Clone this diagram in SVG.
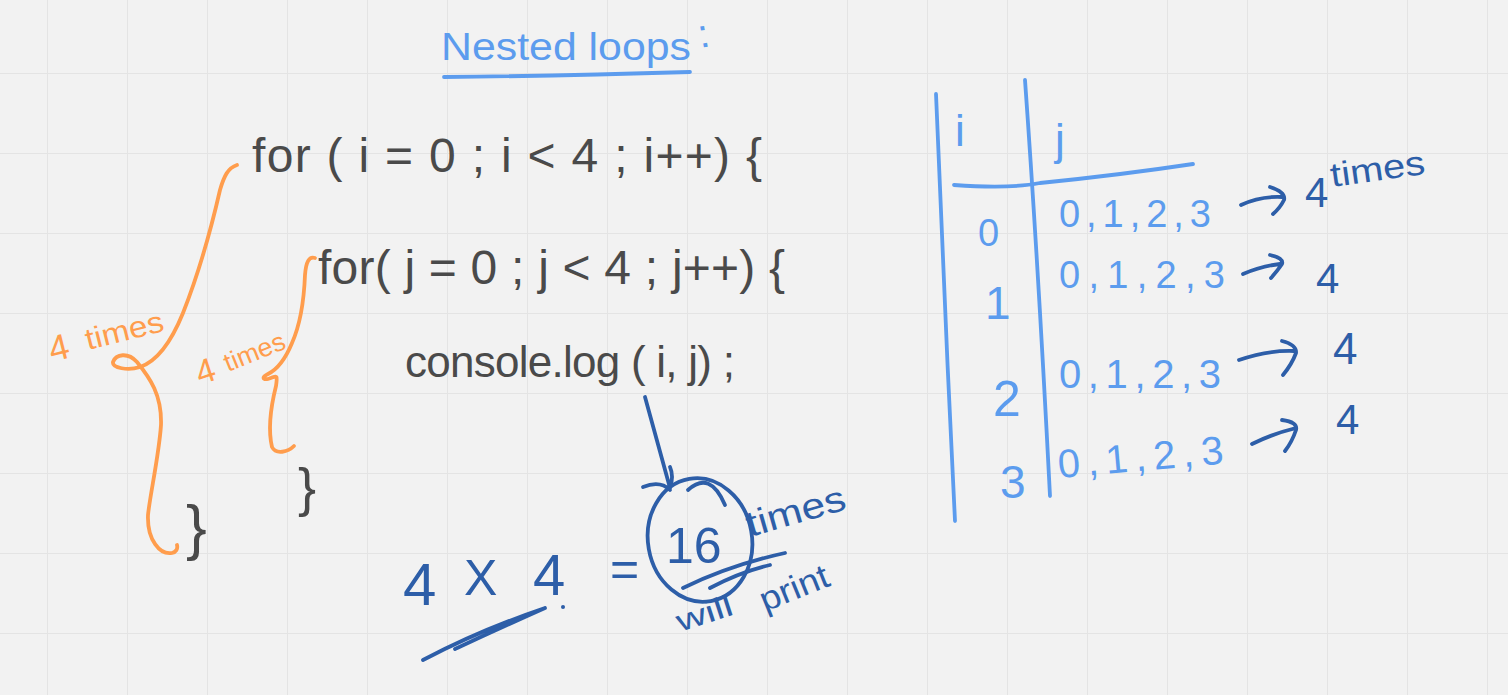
<svg xmlns="http://www.w3.org/2000/svg" width="1508" height="695" viewBox="0 0 1508 695">
<defs>
<pattern id="grid" x="47" y="73" width="80" height="80" patternUnits="userSpaceOnUse">
<path d="M0 0V80M0 0H80" fill="none" stroke="#e4e4e4" stroke-width="2"/>
</pattern>
</defs>
<style>
text{font-family:"Liberation Sans","DejaVu Sans",sans-serif;}
.dk{fill:#4a4a4a;}
.lb{fill:#5c9cee;}
.db{fill:#2d5ea8;}
.or{fill:#ff9d4d;}
.s{fill:none;stroke-linecap:round;stroke-linejoin:round;stroke-width:3.8;}
.sdk{stroke:#4a4a4a;}
.slb{stroke:#5c9cee;}
.sdb{stroke:#2d5ea8;}
.sor{stroke:#ff9d4d;}
</style>
<rect width="1508" height="695" fill="#f2f2f2"/>
<rect width="1508" height="695" fill="url(#grid)"/>

<g id="title">
<text x="441" y="60" font-size="38" class="lb" textLength="250" lengthAdjust="spacingAndGlyphs">Nested loops</text>
<path class="s slb" d="M444 77 Q560 76 690 72"/>
<text x="698" y="47" font-size="40" class="lb" transform="rotate(-10 705 35)">:</text>
</g>

<g id="code">
<text x="252" y="172" font-size="48" class="dk" textLength="510" lengthAdjust="spacing">for ( i = 0 ; i &lt; 4 ; i++) {</text>
<text x="318" y="284" font-size="48" class="dk" textLength="467" lengthAdjust="spacing">for( j = 0 ; j &lt; 4 ; j++) {</text>
<text x="405" y="377" font-size="44" class="dk" textLength="330" lengthAdjust="spacing">console.log ( i, j) ;</text>
<text x="298" y="506" font-size="54" class="dk">}</text>
<text x="186" y="548" font-size="62" class="dk">}</text>
</g>

<g id="outer-bracket">
<path class="s sor" d="M237 165 C228 168 224 176 220 190 C212 225 200 270 183 313 C170 345 155 362 140 367 C128 371 112 368 113 362 C116 354 128 352 137 362 C150 378 162 395 161 425 C159 455 150 495 148 515 C147 540 160 555 172 553 C176 552 178 549 177 545"/>
<text transform="translate(52 362) rotate(-14)" font-size="36" class="or">4</text>
<text transform="translate(88 350) rotate(-14)" font-size="30" class="or" textLength="80" lengthAdjust="spacingAndGlyphs">times</text>
</g>

<g id="inner-bracket">
<path class="s sor" d="M315 258 C309 256 306 262 305 275 C304 300 300 325 292 343 C285 360 276 370 268 374 C262 377 262 380 268 379 C276 377 278 372 276 386 C270 410 268 430 272 447 C276 455 288 452 294 446"/>
<text transform="translate(200 385) rotate(-18)" font-size="34" class="or">4</text>
<text transform="translate(228 372) rotate(-22)" font-size="26" class="or" textLength="64" lengthAdjust="spacingAndGlyphs">times</text>
</g>

<g id="table">
<path class="s slb" d="M936 94 C940 200 948 380 955 521"/>
<path class="s slb" d="M1025 80 C1030 150 1040 300 1050 496"/>
<path class="s slb" d="M954 185 Q1010 189 1040 183 Q1120 175 1193 164"/>
<text x="955" y="146" font-size="44" class="lb">i</text>
<text x="1055" y="155" font-size="44" class="lb">j</text>
<text x="978" y="246" font-size="38" class="lb">0</text>
<text x="985" y="319" font-size="46" class="lb">1</text>
<text x="993" y="416" font-size="50" class="lb">2</text>
<text x="1000" y="498" font-size="46" class="lb">3</text>
<text x="1059" y="227" font-size="38" class="lb" textLength="152" lengthAdjust="spacing">0 , 1 , 2 , 3</text>
<text x="1059" y="288" font-size="38" class="lb" textLength="166" lengthAdjust="spacing">0 , 1 , 2 , 3</text>
<text x="1059" y="388" font-size="40" class="lb" textLength="162" lengthAdjust="spacing">0 , 1 , 2 , 3</text>
<text x="1059" y="478" font-size="40" class="lb" textLength="166" lengthAdjust="spacing" transform="rotate(-5 1059 478)">0 , 1 , 2 , 3</text>
</g>

<g id="arrows">
<path class="s sdb" d="M1241 205 Q1260 196 1282 197 M1270 187 Q1286 192 1284 200 Q1280 208 1273 214"/>
<path class="s sdb" d="M1243 274 Q1262 266 1280 264 M1270 255 Q1284 258 1282 264 Q1278 270 1271 278"/>
<path class="s sdb" d="M1239 360 Q1268 350 1294 351 M1282 341 Q1297 345 1296 353 Q1292 364 1283 375"/>
<path class="s sdb" d="M1252 444 Q1272 434 1296 428 M1282 420 Q1298 422 1296 430 Q1292 442 1285 451"/>
<path class="s sdb" d="M645 397 L670 488 M643 487 Q660 480 670 490 M670 467 Q674 476 670 488"/>
</g>

<g id="counts">
<text x="1305" y="207" font-size="42" class="db">4</text>
<text transform="translate(1332 187) rotate(-8)" font-size="34" class="db" textLength="95" lengthAdjust="spacingAndGlyphs">times</text>
<text x="1316" y="293" font-size="42" class="db">4</text>
<text x="1333" y="364" font-size="44" class="db">4</text>
<text x="1336" y="434" font-size="42" class="db">4</text>
</g>

<g id="result">
<text x="403" y="605" font-size="60" class="db">4</text>
<text x="464" y="595" font-size="50" class="db">X</text>
<text x="533" y="595" font-size="58" class="db">4</text>
<circle cx="563" cy="607" r="2" class="db"/>
<path class="s sdb" d="M423 660 Q480 630 545 608 Q500 628 455 649"/>
<text x="610" y="586" font-size="50" class="db">=</text>
<ellipse cx="700" cy="540" rx="52" ry="62" transform="rotate(-10 700 540)" class="s sdb"/>
<path class="s sdb" d="M688 490 Q710 470 725 505"/>
<text x="666" y="563" font-size="50" class="db">16</text>
<text transform="translate(750 537) rotate(-16)" font-size="36" class="db" textLength="102" lengthAdjust="spacingAndGlyphs">times</text>
<path class="s sdb" d="M683 588 Q730 565 785 553 M710 588 Q740 572 770 565"/>
<text transform="translate(680 632) rotate(-18)" font-size="30" class="db" textLength="58" lengthAdjust="spacingAndGlyphs">will</text>
<text transform="translate(765 612) rotate(-22)" font-size="34" class="db" textLength="72" lengthAdjust="spacingAndGlyphs">print</text>
</g>
</svg>
